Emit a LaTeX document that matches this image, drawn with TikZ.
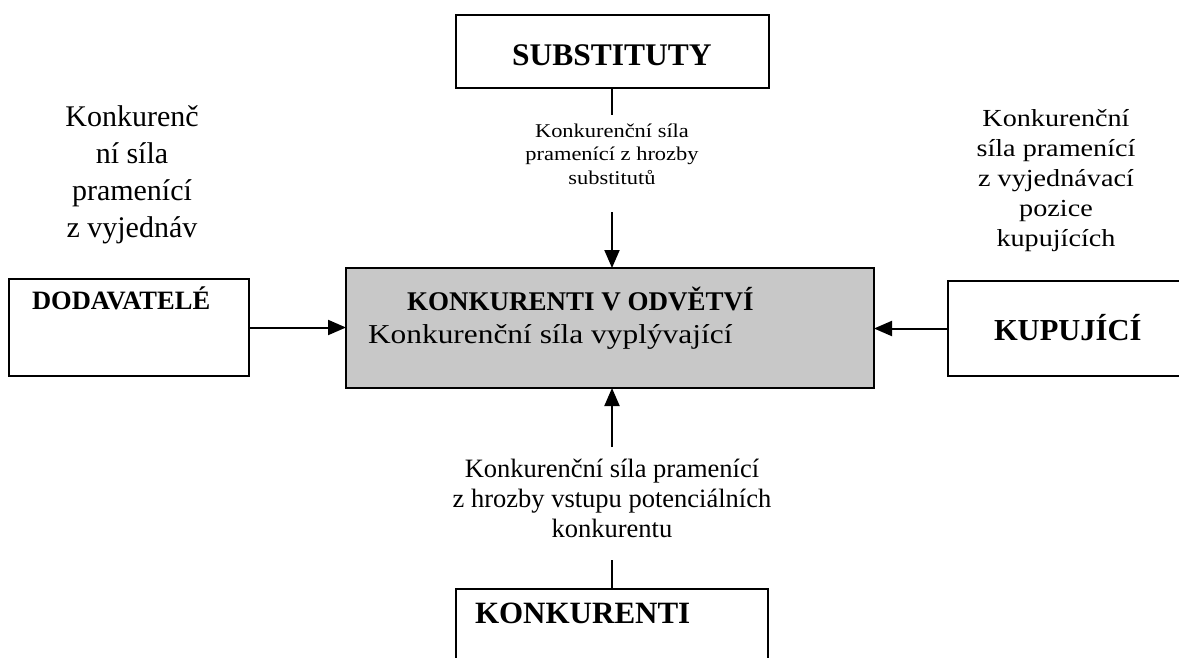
\documentclass[tikz,border=0pt]{standalone}
\usepackage{fontspec}
\setmainfont{Liberation Serif}
\newfontfamily\wideserif[FakeStretch=1.15]{Liberation Serif}
\usetikzlibrary{arrows.meta}
\definecolor{boxgray}{RGB}{200,200,200}
\tikzset{
  box/.style={draw=black, line width=2pt, fill=white, inner sep=0pt, outer sep=0pt},
  centralbox/.style={box, fill=boxgray},
  conn/.style={draw=black, line width=2pt},
  arr/.style={conn, -{Triangle[length=18pt,width=15pt]}},
  lbl/.style={inner sep=0pt, outer sep=0pt, align=center},
}
\begin{document}
\begin{tikzpicture}[x=1pt,y=-1pt]
\clip (0,0) rectangle (1179,657);
\fill[white] (0,0) rectangle (1179,657);

% boxes
\node[box, minimum width=313pt, minimum height=73pt] (sub) at (612,51.5) {};
\node[centralbox, minimum width=528pt, minimum height=120pt] (central) at (610,328) {};
\node[box, minimum width=240pt, minimum height=97pt] (dod) at (129,327.5) {};
\node[box, minimum width=242pt, minimum height=95pt] (kup) at (1069,328.5) {};
\node[box, minimum width=312pt, minimum height=81pt] (konk) at (612,629.5) {};

% box texts
\node[lbl, anchor=base west, font={\fontsize{31.5}{36}\selectfont\bfseries}] (subtxt) at (512,65) {SUBSTITUTY};
\node[lbl, anchor=base west, font={\fontsize{27}{32}\selectfont\bfseries}] (centraltitle) at (407,310) {KONKURENTI V ODVĚTVÍ};
\node[lbl, anchor=base west, font={\wideserif\fontsize{27.3}{32}\selectfont}] (centralsub) at (368,343) {Konkurenční síla vyplývající};
\node[lbl, anchor=base west, font={\fontsize{26.5}{30}\selectfont\bfseries}] (dodtxt) at (32,309) {DODAVATELÉ};
\node[lbl, anchor=base west, font={\fontsize{30.5}{34}\selectfont\bfseries}] (kuptxt) at (994,340) {KUPUJÍCÍ};
\node[lbl, anchor=base west, font={\fontsize{31}{35}\selectfont\bfseries}] (konktxt) at (475,623) {KONKURENTI};

% free labels
\node[lbl, font={\fontsize{30}{37}\selectfont}] (lefttxt) at (132,174.5)
  {Konkurenč\\ní síla\\pramenící\\z vyjednáv};
\node[lbl, font={\wideserif\fontsize{19.5}{23.5}\selectfont}] (toptxt) at (612,153.9)
  {Konkurenční síla\\pramenící z hrozby\\substitutů};
\node[lbl, font={\wideserif\fontsize{24.5}{30}\selectfont}] (righttxt) at (1056,180.3)
  {Konkurenční\\síla pramenící\\z vyjednávací\\pozice\\kupujících};
\node[lbl, font={\fontsize{26.5}{30}\selectfont}] (bottxt) at (612,498)
  {Konkurenční síla pramenící\\z hrozby vstupu potenciálních\\konkurentu};

% connector coordinates
\coordinate (subEnd) at (612,115);
\coordinate (topStart) at (612,212);
\coordinate (botStart) at (612,447);
\coordinate (konkEnd) at (612,560);

% connectors
\draw[conn] (sub.south) -- (subEnd);
\draw[arr] (topStart) -- (topStart |- central.north);
\draw[arr] (dod.east) -- (dod.east -| central.west);
\draw[arr] (kup.west) -- (kup.west -| central.east);
\draw[arr] (botStart) -- (botStart |- central.south);
\draw[conn] (konk.north) -- (konkEnd);
\end{tikzpicture}
\end{document}
